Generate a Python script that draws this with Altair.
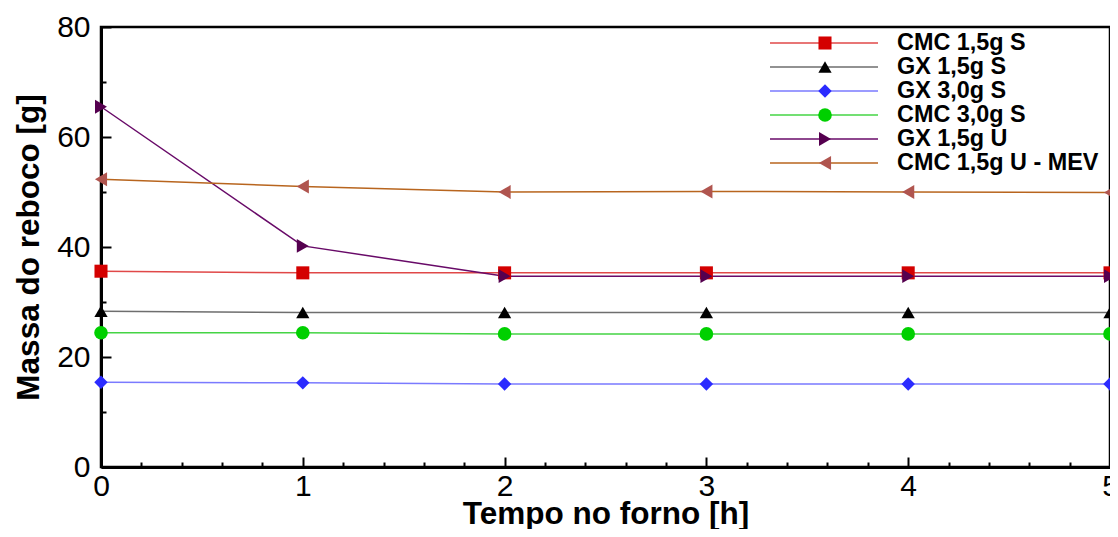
import altair as alt
import pandas as pd

# ---- data ----
hours = [0, 1, 2, 3, 4, 5]
series_names = ["CMC 1,5g S", "GX 1,5g S", "GX 3,0g S", "CMC 3,0g S", "GX 1,5g U", "CMC 1,5g U - MEV"]
cmc_15_s = [35.6, 35.3, 35.3, 35.3, 35.3, 35.3]
gx_15_s = [28.3, 28.1, 28.1, 28.1, 28.1, 28.1]
gx_30_s = [15.4, 15.3, 15.1, 15.1, 15.1, 15.1]
cmc_30_s = [24.4, 24.4, 24.2, 24.2, 24.2, 24.2]
gx_15_u = [65.5, 40.2, 34.7, 34.7, 34.7, 34.7]
cmc_15_u_mev = [52.3, 51.0, 50.0, 50.1, 50.0, 49.9]

line_colors = ["#e04848", "#6e6e6e", "#7a7aff", "#44d444", "#680a68", "#b8651e"]
marker_colors = ["#d40000", "#000000", "#2b2bff", "#00d000", "#55004f", "#b0554f"]
marker_shapes = ["square", "triangle-up", "diamond", "circle", "triangle-right", "triangle-left"]
marker_sizes = [170, 196, 250, 289, 200, 200]

x_ticks = [round(i * 0.2, 1) for i in range(26)]
y_ticks = list(range(0, 81, 5))

all_values = [cmc_15_s, gx_15_s, gx_30_s, cmc_30_s, gx_15_u, cmc_15_u_mev]
rows = []
for name, vals in zip(series_names, all_values):
    for h, v in zip(hours, vals):
        rows.append({"hours": h, "mass": v, "series": name, "marker_key": name + " "})
df = pd.DataFrame(rows)
marker_keys = [n + " " for n in series_names]

FONT = "Liberation Sans"

x_axis = alt.Axis(
    values=x_ticks,
    labelExpr="datum.value % 1 === 0 ? format(datum.value, 'd') : ''",
    tickSize={"condition": {"test": "datum.value % 1 === 0", "value": -10}, "value": -5},
    labelPadding=14,
    labelFlush=False,
    labelOverlap=False,
    titleY=31,
)
y_axis = alt.Axis(
    values=y_ticks,
    labelExpr="datum.value % 20 === 0 ? format(datum.value, 'd') : ''",
    tickSize={"condition": {"test": "datum.value % 20 === 0", "value": -10}, "value": -5},
    labelPadding=21,
    labelOverlap=False,
    titlePadding=11,
)

legend_lines = alt.Legend(
    orient="none", legendX=668, legendY=4, title=None,
    symbolType="stroke", symbolSize=11664, symbolStrokeWidth=1.5,
    clipHeight=24, rowPadding=0, padding=0,
    labelFont=FONT, labelFontSize=23.4, labelFontWeight="bold", labelColor="black",
    labelOffset=18, labelLimit=400,
)
legend_markers = alt.Legend(
    orient="none", legendX=713, legendY=4, title=None,
    symbolStrokeWidth=0, symbolOpacity=1,
    clipHeight=24, rowPadding=0, padding=0,
    labelFontSize=22, labelExpr="''",
)

lines = alt.Chart(df).mark_line(strokeWidth=1.5).encode(
    x=alt.X("hours:Q", scale=alt.Scale(domain=[0, 5], nice=False, zero=False),
            axis=x_axis, title="Tempo no forno [h]"),
    y=alt.Y("mass:Q", scale=alt.Scale(domain=[0, 80], nice=False),
            axis=y_axis, title="Massa do reboco [g]"),
    color=alt.Color("series:N", scale=alt.Scale(domain=series_names, range=line_colors),
                    legend=legend_lines),
)

points = alt.Chart(df).mark_point(filled=True, opacity=1, strokeWidth=0).encode(
    x=alt.X("hours:Q"),
    y=alt.Y("mass:Q"),
    fill=alt.Fill("marker_key:N", scale=alt.Scale(domain=marker_keys, range=marker_colors),
                  legend=legend_markers),
    shape=alt.Shape("marker_key:N", scale=alt.Scale(domain=marker_keys, range=marker_shapes),
                    legend=legend_markers),
    size=alt.Size("marker_key:N", scale=alt.Scale(domain=marker_keys, range=marker_sizes),
                  legend=legend_markers),
)

chart = alt.layer(lines, points).properties(
    width=1009,
    height=440,
    autosize=alt.AutoSizeParams(type="none"),
    padding={"left": 93, "top": 19, "right": 0, "bottom": 62},
).configure(
    font=FONT,
).configure_view(
    stroke="black", strokeWidth=2.5,
).configure_axis(
    grid=False,
    domainColor="black", domainWidth=3,
    tickColor="black", tickWidth=2,
    labelFont=FONT, labelFontSize=30, labelColor="black",
    titleFont=FONT, titleFontSize=31.5, titleFontWeight="bold", titleColor="black",
)

chart.save("out.html", embed_options={"renderer": "svg", "actions": False})
